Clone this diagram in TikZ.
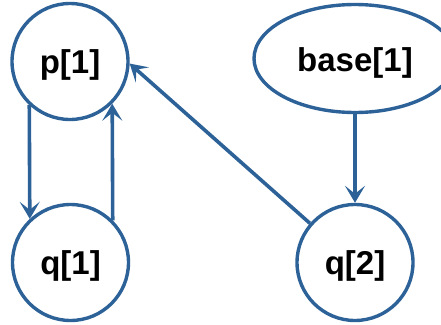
\documentclass[tikz,border=0pt]{standalone}
\usepackage{fontspec}
\setmainfont{Liberation Sans}
\usetikzlibrary{arrows.meta,shapes.geometric}
\definecolor{edgeblue}{RGB}{44,98,152}
\tikzset{
  vnode/.style={circle,draw=edgeblue,line width=3.4pt,minimum size=116pt,inner sep=0pt,text height=24pt,text depth=0pt,font=\fontsize{33}{36}\selectfont\bfseries},
  enode/.style={ellipse,draw=edgeblue,line width=3.4pt,minimum width=202pt,minimum height=108pt,inner sep=0pt,text height=25pt,text depth=0pt,font=\fontsize{33}{36}\selectfont\bfseries},
  conn/.style={draw=edgeblue,line width=3.6pt,-{Stealth[length=17pt,width=20pt,inset=8pt]}}
}
\begin{document}
\begin{tikzpicture}[x=1pt,y=-1pt]
\useasboundingbox (0,0) rectangle (441,324);
\node[vnode] (p1) at (70,61.5) {p[1]};
\node[vnode] (q1) at (70.5,262.5) {q[1]};
\node[vnode] (q2) at (355,262.5) {q[2]};
\node[enode] (b1) at (355,58.5) {base[1]};
\draw[conn] (p1.-133.4) -- (q1.133.4);
\draw[conn] (q1.45.2) -- (p1.-45.2);
\draw[conn] (q2.139) -- (p1.-2);
\draw[conn] (b1) -- (q2);
\end{tikzpicture}
\end{document}
